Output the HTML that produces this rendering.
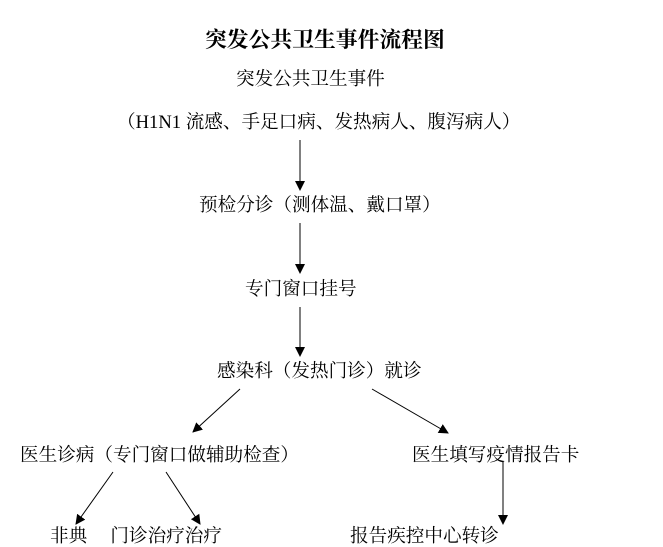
<!DOCTYPE html>
<html><head><meta charset="utf-8"><style>
html,body{margin:0;padding:0;background:#fff;}
body{width:663px;height:530px;position:relative;overflow:hidden;font-family:"Liberation Serif","Noto Serif CJK SC",serif;color:#000;}
.t{position:absolute;white-space:nowrap;font-size:18.6px;line-height:20px;}
svg{position:absolute;left:0;top:0;}
</style></head><body>
<div class="t" style="left:205px;top:28px;font-size:21.8px;font-weight:bold;line-height:24px;">突发公共卫生事件流程图</div>
<div class="t" style="left:236px;top:70px;">突发公共卫生事件</div>
<div class="t" style="left:117px;top:113px;">（H1N1 流感、手足口病、发热病人、腹泻病人）</div>
<div class="t" style="left:199px;top:196px;">预检分诊（测体温、戴口罩）</div>
<div class="t" style="left:245px;top:280px;">专门窗口挂号</div>
<div class="t" style="left:217px;top:362px;">感染科（发热门诊）就诊</div>
<div class="t" style="left:20px;top:446px;">医生诊病（专门窗口做辅助检查）</div>
<div class="t" style="left:412px;top:446px;">医生填写疫情报告卡</div>
<div class="t" style="left:50px;top:527px;">非典 　门诊治疗治疗</div>
<div class="t" style="left:350px;top:527px;">报告疾控中心转诊</div>
<svg width="663" height="530">
<defs><marker id="a" markerWidth="10" markerHeight="10" refX="9" refY="5" orient="auto" markerUnits="userSpaceOnUse"><path d="M0,0 L10,5 L0,10 z" fill="#000"/></marker></defs>
<g stroke="#000" stroke-width="1" marker-end="url(#a)">
<line x1="300" y1="140" x2="300" y2="190"/>
<line x1="300" y1="223" x2="300" y2="273"/>
<line x1="300" y1="307" x2="300" y2="356"/>
<line x1="240" y1="389" x2="193" y2="432"/>
<line x1="372" y1="389" x2="448" y2="433"/>
<line x1="113" y1="472" x2="76" y2="524"/>
<line x1="166" y1="472" x2="200" y2="524"/>
<line x1="503" y1="462" x2="503" y2="524"/>
</g></svg>
</body></html>
